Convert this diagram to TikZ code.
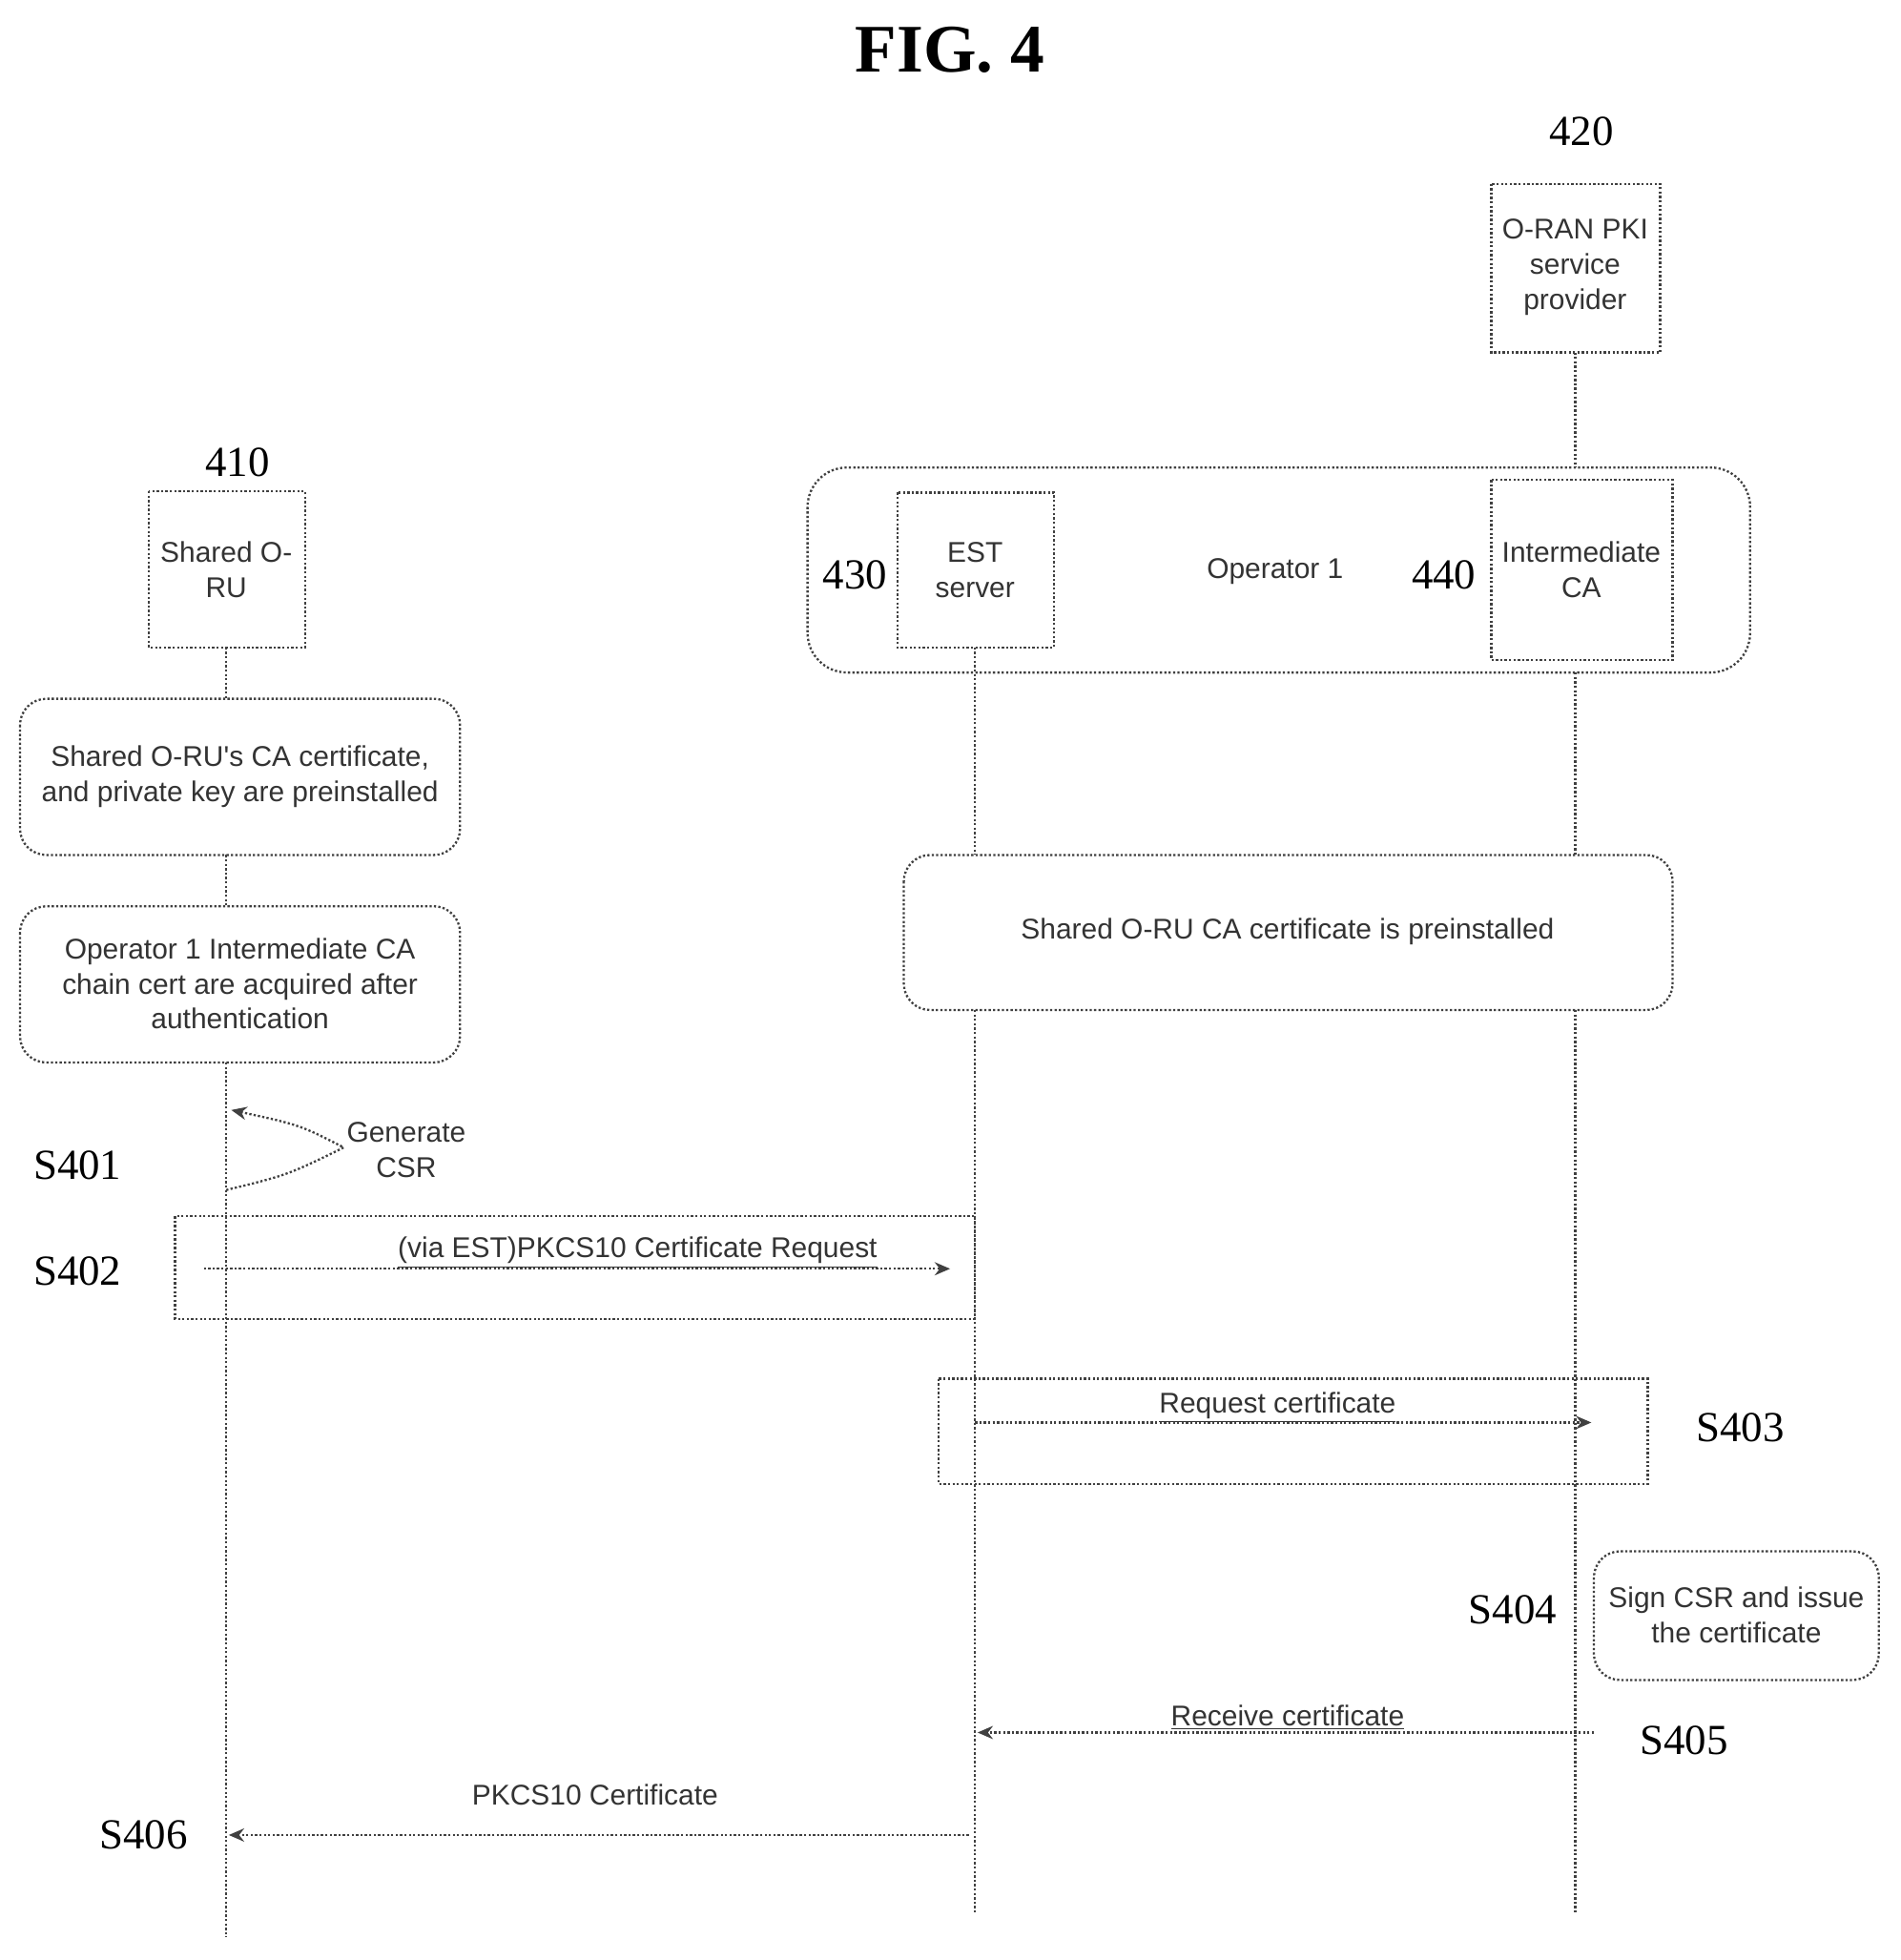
\documentclass[tikz,border=0pt]{standalone}
\usepackage{fontspec}
\setmainfont{Liberation Serif}
\newfontfamily\sansf{Liberation Sans}
\usetikzlibrary{arrows.meta}
\begin{document}
\begin{tikzpicture}[x=0.02cm,y=-0.02cm,
  ln/.style={draw=black!75,densely dotted,line width=1pt},
  box/.style={ln,fill=none},
  rbox/.style={ln,rounded corners=12pt},
  txt/.style={font=\sansf\fontsize{13}{16}\selectfont,align=center,text=black!80},
  lab/.style={font=\fontsize{19.5}{22}\selectfont},
  arr/.style={ln,-{Stealth[length=7pt,width=6pt]}}]
\useasboundingbox (0,0) rectangle (1520,1568);
\node[font=\bfseries\fontsize{31}{34}\selectfont] (fig) at (760,40) {FIG. 4};
% participants
\node[lab] (l420) at (1265,105) {420};
\draw[box] (1193,147) rectangle (1328,282);
\node[txt] (pki) at (1260,214) {O-RAN PKI\\service\\provider};
\node[lab] (l410) at (190,370) {410};
\draw[box] (119,393) rectangle (244,518);
\node[txt] (oru) at (181,456) {Shared O-\\RU};
\draw[rbox,rounded corners=18pt] (646,374) rectangle (1400,538);
\draw[box] (718,394) rectangle (843,518);
\node[txt] (est) at (780,456) {EST\\server};
\node[lab] (l430) at (684,460) {430};
\node[txt] (op1) at (1020,457) {Operator 1};
\node[lab] (l440) at (1155,460) {440};
\draw[box] (1193,384) rectangle (1338,528);
\node[txt] (ica) at (1265,456) {Intermediate\\CA};
% lifelines
\coordinate (a0) at (181,518); \coordinate (a1) at (181,559);
\coordinate (a2) at (181,684); \coordinate (a3) at (181,725);
\coordinate (a4) at (181,850); \coordinate (a5) at (181,1550);
\draw[ln] (a0)--(a1) (a2)--(a3) (a4)--(a5);
\coordinate (b0) at (780,518); \coordinate (b1) at (780,684);
\coordinate (b2) at (780,808); \coordinate (b3) at (780,1530);
\draw[ln] (b0)--(b1) (b2)--(b3);
\coordinate (c0) at (1260,282); \coordinate (c1) at (1260,374);
\coordinate (c2) at (1260,538); \coordinate (c3) at (1260,684);
\coordinate (c4) at (1260,808); \coordinate (c5) at (1260,1530);
\draw[ln] (c0)--(c1) (c2)--(c3) (c4)--(c5);
% notes
\draw[rbox] (16,559) rectangle (368,684);
\node[txt] (n1) at (192,621) {Shared O-RU's CA certificate,\\and private key are preinstalled};
\draw[rbox] (16,725) rectangle (368,850);
\node[txt] (n2) at (192,787) {Operator 1 Intermediate CA\\chain cert are acquired after\\authentication};
\draw[rbox] (723,684) rectangle (1338,808);
\node[txt] (n3) at (1030,745) {Shared O-RU CA certificate is preinstalled};
% S401
\coordinate (s1a) at (181,952); \coordinate (s1b) at (275,918); \coordinate (s1c) at (185,888);
\draw[arr] (s1a) .. controls (230,940) .. (s1b) .. controls (240,900) .. (s1c);
\node[txt] (gen) at (325,920) {Generate\\CSR};
\node[lab] (s401) at (62,932) {S401};
% S402
\draw[box] (140,973) rectangle (780,1055);
\coordinate (s2a) at (163,1015); \coordinate (s2b) at (760,1015);
\draw[arr] (s2a)--(s2b);
\node[txt] (t2) at (510,1002) {\underline{(via EST)PKCS10 Certificate Request}};
\node[lab] (s402) at (62,1017) {S402};
% S403
\draw[box] (751,1103) rectangle (1318,1187);
\coordinate (s3a) at (780,1138); \coordinate (s3b) at (1273,1138);
\draw[arr] (s3a)--(s3b);
\node[txt] (t3) at (1022,1126) {\underline{Request certificate}};
\node[lab] (s403) at (1392,1142) {S403};
% S404
\node[lab] (s404) at (1210,1288) {S404};
\draw[rbox] (1275,1241) rectangle (1503,1344);
\node[txt] (n4) at (1389,1292) {Sign CSR and issue\\the certificate};
% S405
\coordinate (s5a) at (1275,1386); \coordinate (s5b) at (782,1386);
\draw[arr] (s5a)--(s5b);
\node[txt] (t5) at (1030,1374) {\underline{Receive certificate}};
\node[lab] (s405) at (1347,1392) {S405};
% S406
\coordinate (s6a) at (775,1468); \coordinate (s6b) at (183,1468);
\draw[arr] (s6a)--(s6b);
\node[txt] (t6) at (476,1436) {PKCS10 Certificate};
\node[lab] (s406) at (115,1468) {S406};
\end{tikzpicture}
\end{document}
